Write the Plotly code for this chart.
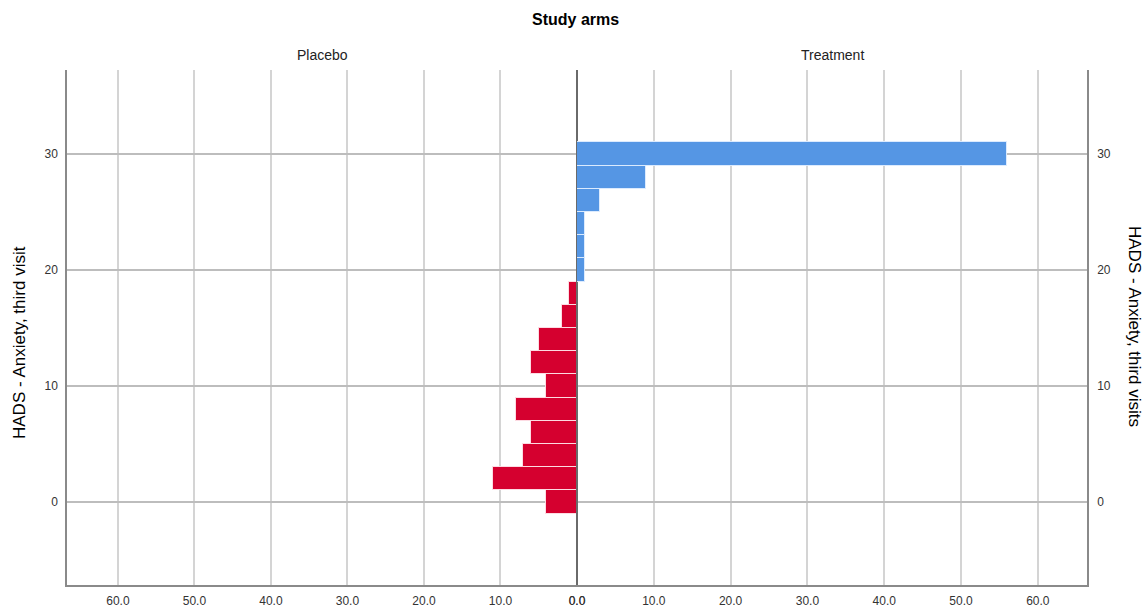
import plotly.graph_objects as go

# HADS anxiety score bins (bin centres, width 2)
placebo_bins = [0, 2, 4, 6, 8, 10, 12, 14, 16, 18]
placebo_counts = [4, 11, 7, 6, 8, 4, 6, 5, 2, 1]

treatment_bins = [20, 22, 24, 26, 28, 30]
treatment_counts = [1, 1, 1, 3, 9, 56]

x_ticks = [0, 10, 20, 30, 40, 50, 60]
y_ticks = [0, 10, 20, 30]

red = "#d5002f"
blue = "#5596e4"
font_family = "Liberation Sans, Arial, sans-serif"
y_range = [-7.16, 37.24]

ML, MR, MT, MB = 67, 61, 70, 27
W, H = 1148, 612

fig = go.Figure()

fig.add_trace(go.Bar(
    y=placebo_bins, x=placebo_counts, orientation="h", width=2,
    marker=dict(color=red, line=dict(color="rgba(255,230,235,0.9)", width=1)),
    xaxis="x", yaxis="y", showlegend=False, name="Placebo",
))
fig.add_trace(go.Bar(
    y=treatment_bins, x=treatment_counts, orientation="h", width=2,
    marker=dict(color=blue, line=dict(color="rgba(225,238,255,0.9)", width=1)),
    xaxis="x2", yaxis="y", showlegend=False, name="Treatment",
))
# invisible trace so the right-hand score axis is drawn
fig.add_trace(go.Scatter(
    x=[1], y=[0], xaxis="x2", yaxis="y2", mode="markers",
    marker=dict(opacity=0), showlegend=False, hoverinfo="skip",
))

tick_font = dict(family=font_family, size=12, color="#333333")
xcommon = dict(
    tickvals=x_ticks, tickformat=".1f", tickfont=tick_font,
    showgrid=True, gridcolor="#d4d4d4", gridwidth=1.5,
    showline=True, linecolor="#8a8a8a", linewidth=1.5,
    zeroline=True, zerolinecolor="#6a6a6a", zerolinewidth=1.5,
    ticks="outside", ticklen=4, tickcolor="rgba(0,0,0,0)",
    automargin=False, fixedrange=True,
)

fig.update_layout(
    width=W, height=H,
    margin=dict(l=ML, r=MR, t=MT, b=MB, autoexpand=False),
    paper_bgcolor="white", plot_bgcolor="white",
    bargap=0,
    font=dict(family=font_family, color="#000000"),
    xaxis=dict(domain=[0, 0.5], range=[66.65, 0], anchor="y", **xcommon),
    xaxis2=dict(domain=[0.5, 1], range=[0, 66.4], anchor="y", **xcommon),
    yaxis=dict(
        range=y_range, tickvals=y_ticks, tickfont=tick_font,
        showgrid=True, gridcolor="#bdbdbd", gridwidth=1.5,
        zeroline=False, showline=True, linecolor="#8a8a8a", linewidth=1.5,
        ticks="outside", ticklen=5, tickcolor="rgba(0,0,0,0)",
        anchor="x", automargin=False, fixedrange=True,
    ),
    yaxis2=dict(
        range=y_range, tickvals=y_ticks, tickfont=tick_font,
        overlaying="y", side="right", anchor="x2",
        showgrid=False, zeroline=False,
        showline=True, linecolor="#8a8a8a", linewidth=1.5,
        ticks="outside", ticklen=6, tickcolor="rgba(0,0,0,0)",
        automargin=False, fixedrange=True,
    ),
)

pw = W - ML - MR
ph = H - MT - MB


def px_to_paper(px, py):
    return (px - ML) / pw, (H - MB - py) / ph


annotations = [
    dict(text="<b>Study arms</b>", x=0.4985, y=1, yanchor="middle", yshift=MT - 19,
         font=dict(size=16, color="#000000")),
    dict(text="Placebo", x=0.25, y=1, yanchor="middle", yshift=MT - 55,
         font=dict(size=14, color="#222222")),
    dict(text="Treatment", x=0.75, y=1, yanchor="middle", yshift=MT - 55,
         font=dict(size=14, color="#222222")),
]
lx, ly = px_to_paper(19, 343)
rx, ry = px_to_paper(1135, 326)
annotations += [
    dict(text="HADS - Anxiety, third visit", x=lx, y=ly, textangle=-90,
         yanchor="middle", font=dict(size=17, color="#000000")),
    dict(text="HADS - Anxiety, third visits", x=rx, y=ry, textangle=90,
         yanchor="middle", font=dict(size=17, color="#000000")),
]
for a in annotations:
    a.update(xref="paper", yref="paper", xanchor="center", showarrow=False)
fig.update_layout(annotations=annotations)

fig.write_html("out.html")
